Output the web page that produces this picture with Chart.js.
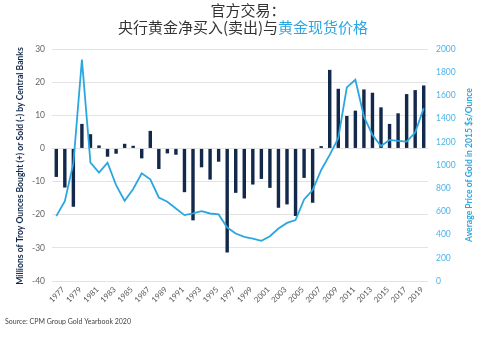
<!DOCTYPE html>
<html>
<head>
<meta charset="utf-8">
<script src="https://cdn.jsdelivr.net/npm/chart.js@4.4.1/dist/chart.umd.min.js"></script>
<style>
  html, body { margin:0; padding:0; background:#fff; }
  #wrap { width:489px; height:343px; position:relative; }
</style>
</head>
<body>
<div id="wrap"><canvas id="c" width="489" height="343"></canvas></div>
<script>
// data
const YEARS = [];
for (let y = 1977; y <= 2020; y++) YEARS.push(String(y));

const CB_NET = [
  -8.6, -11.8, -17.6, 7.4, 4.3, 0.9, -2.5, -1.6, 1.4, 0.8,
  -3.0, 5.3, -6.2, -1.5, -1.9, -13.2, -21.7, -5.7, -9.4, -4.0,
  -31.4, -13.4, -15.1, -10.9, -9.2, -11.9, -17.9, -16.9, -20.4, -8.9,
  -16.4, 0.7, 23.7, 18.0, 9.8, 11.4, 17.8, 16.8, 12.4, 7.4,
  10.6, 16.4, 17.6, 19.0
];

const GOLD_PRICE = [
  559, 689, 1014, 1908, 1020, 934, 1020, 827, 692, 793,
  928, 876, 720, 683, 625, 568, 582, 602, 582, 574,
  461, 409, 380, 366, 346, 386, 452, 501, 525, 703,
  784, 957, 1087, 1231, 1669, 1735, 1418, 1259, 1164, 1216,
  1208, 1202, 1280, 1490
];

const NAVY  = '#13294b';
const BLUE  = '#2aa7e1';
const GREY  = '#666';
const FONT  = 'Lato, "Noto Sans", sans-serif';
const CJK   = '"Noto Sans CJK SC", "Noto Sans", sans-serif';

// titles, axis titles and source are painted by hand (two-colour title, bottom-up right title)
const textPlugin = {
  id: 'texts',
  afterDraw(chart) {
    const ctx = chart.ctx;
    ctx.save();
    ctx.textBaseline = 'middle';
    // title line 1
    ctx.font = '15px ' + CJK;
    ctx.fillStyle = '#333';
    ctx.textAlign = 'center';
    ctx.fillText('官方交易：', 248, 10);
    // title line 2 in two colours
    const a = '央行黄金净买入(卖出)与', b = '黄金现货价格';
    const wa = ctx.measureText(a).width, wb = ctx.measureText(b).width;
    const x0 = 243 - (wa + wb) / 2;
    ctx.textAlign = 'left';
    ctx.fillStyle = '#333';
    ctx.fillText(a, x0, 27);
    ctx.fillStyle = BLUE;
    ctx.fillText(b, x0 + wa, 27);

    // left axis title
    ctx.font = 'bold 8.6px ' + FONT;
    ctx.fillStyle = NAVY;
    ctx.textAlign = 'center';
    ctx.translate(20, 166);
    ctx.rotate(-Math.PI / 2);
    ctx.fillText('Millions of Troy Ounces Bought (+) or Sold (-) by Central Banks', 0, 0);
    ctx.setTransform(1, 0, 0, 1, 0, 0);

    // right axis title
    ctx.fillStyle = BLUE;
    ctx.translate(469, 165);
    ctx.rotate(-Math.PI / 2);
    ctx.fillText('Average Price of Gold in 2015 $s/Ounce', 0, 0);
    ctx.setTransform(1, 0, 0, 1, 0, 0);

    // source
    ctx.font = '7px ' + FONT;
    ctx.fillStyle = '#444';
    ctx.textAlign = 'left';
    ctx.fillText('Source: CPM Group Gold Yearbook 2020', 5, 322);
    ctx.restore();
  }
};

new Chart(document.getElementById('c'), {
  data: {
    labels: YEARS,
    datasets: [
      { type:'line', label:'Gold price', data: GOLD_PRICE, yAxisID:'yR',
        borderColor: BLUE, borderWidth: 1.8, pointRadius: 0, tension: 0, order: 0 },
      { type:'bar', label:'Net purchases', data: CB_NET, yAxisID:'yL',
        backgroundColor: NAVY, barPercentage: 0.4, categoryPercentage: 1, order: 1 }
    ]
  },
  options: {
    responsive: false, animation: false, devicePixelRatio: 1,
    layout: { padding: { top: 49, left: 30, right: 0, bottom: 0 } },
    plugins: { legend: { display:false }, tooltip: { enabled:false }, title: { display:false } },
    scales: {
      x: {
        grid: { display:false, drawTicks:false },
        border: { display:false },
        afterFit(s) { s.height = 62; },
        ticks: {
          autoSkip:false, maxRotation:45, minRotation:45, padding:4, labelOffset:7,
          color:'#555', font:{ family: FONT, size: 7.8 },
          callback(v, i) { return i % 2 === 0 ? this.getLabelForValue(v) : ''; }
        }
      },
      yL: {
        position:'left', min:-40, max:30,
        afterFit(s) { s.width = 22; },
        grid: { color:'#e3e3e3', drawTicks:false, lineWidth:1 },
        border: { display:false },
        ticks: { stepSize:10, padding:7, color:GREY, font:{ family: FONT, size: 8.5 } }
      },
      yR: {
        position:'right', min:0, max:2000,
        afterFit(s) { s.width = 61; },
        grid: { display:false, drawTicks:false },
        border: { display:false },
        ticks: { stepSize:200, padding:8, color:'#4fb4e8', font:{ family: FONT, size: 8.5 },
          callback: v => String(v) }
      }
    }
  },
  plugins: [textPlugin]
});
</script>
</body>
</html>
